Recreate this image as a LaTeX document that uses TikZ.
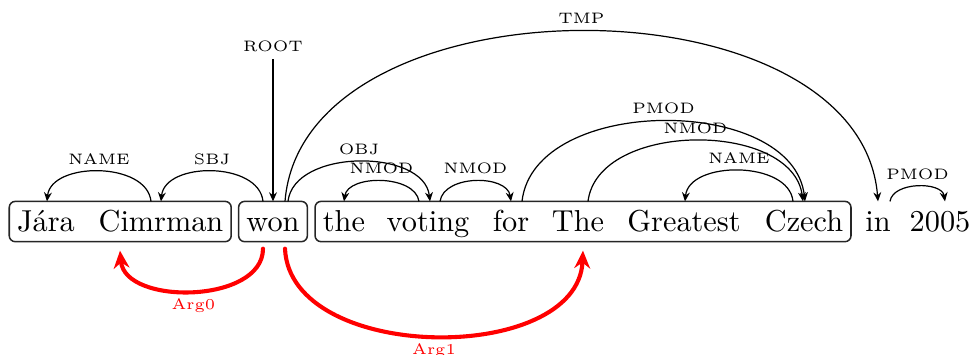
\documentclass[tikz,border=0pt]{standalone}
\usetikzlibrary{arrows.meta,calc,fit}
\begin{document}
\begin{tikzpicture}[x=0.33pt,y=-0.33pt,
  word/.style={anchor=base,inner sep=0pt,text height=9.9pt,text depth=3pt,font=\normalsize},
  wbox/.style={draw=black!85,rounded corners=2pt,inner xsep=2.4pt,inner ysep=0pt,line width=0.5pt},
  dep/.style={-{Stealth[length=3pt,width=2.6pt]},line width=0.4pt},
  lab/.style={font=\tiny,anchor=base,inner sep=0pt,yshift=2.4pt},
  srl/.style={red,line width=1.35pt,line cap=round,-{Stealth[length=5.8pt,width=5.2pt]}},
  srllab/.style={font=\tiny,text=red,anchor=base,inner sep=0pt,yshift=-6pt}]
\path[use as bounding box] (0,0) rectangle (976,355);

% sentence tokens
\node[word] (w1)  at (46,232)  {Jára};
\node[word] (w2)  at (161,232) {Cimrman};
\node[word] (w3)  at (273,232) {won};
\node[word] (w4)  at (344,232) {the};
\node[word] (w5)  at (428,232) {voting};
\node[word] (w6)  at (511,232) {for};
\node[word] (w7)  at (578,232) {The};
\node[word] (w8)  at (684,232) {Greatest};
\node[word] (w9)  at (804,232) {Czech};
\node[word] (w10) at (878,232) {in};
\node[word] (w11) at (940,232) {2005};

% phrase groups
\node[wbox,fit=(w1)(w2)] (g1) {};
\node[wbox,fit=(w3)] (g2) {};
\node[wbox,fit=(w4)(w9)] (g3) {};

% root
\node[font=\tiny,inner sep=0pt] (root) at (273,46) {ROOT};
\draw[dep] ([yshift=-2.4pt]root.south) -- (w3.north);

% dependency arcs
\draw[dep] ($(w2.north)+(-10,0)$) .. controls +(-4,-40) and +(4,-40) .. ($(w1.north)+(1,0)$)
  node[lab,midway] {NAME};
\draw[dep] ($(w3.north)+(-10,0)$) .. controls +(-4,-40) and +(4,-40) .. (w2.north)
  node[lab,midway] {SBJ};
\draw[dep] ($(w3.north)+(12,0)$) .. controls +(18,-227) and +(-18,-227) .. (w10.north)
  node[lab,midway] {TMP};
\draw[dep] ($(w3.north)+(15,0)$) .. controls +(6,-53) and +(-6,-53) .. ($(w5.north)+(2,0)$)
  node[lab,midway] {OBJ};
\draw[dep] ($(w5.north)+(-9,0)$) .. controls +(-4,-27) and +(4,-27) .. (w4.north)
  node[lab,midway] {NMOD};
\draw[dep] ($(w5.north)+(12,0)$) .. controls +(4,-27) and +(-4,-27) .. (w6.north)
  node[lab,midway] {NMOD};
\draw[dep] ($(w6.north)+(11,0)$) .. controls +(12,-107) and +(-12,-107) .. ($(w9.north)+(1,0)$)
  node[lab,midway] {PMOD};
\draw[dep] ($(w7.north)+(10,0)$) .. controls +(10,-81) and +(-10,-81) .. ($(w9.north)+(-1,0)$)
  node[lab,midway] {NMOD};
\draw[dep] ($(w9.north)+(-11,0)$) .. controls +(-4,-41) and +(4,-41) .. ($(w8.north)+(1,0)$)
  node[lab,midway] {NAME};
\draw[dep] ($(w10.north)+(12,0)$) .. controls +(3,-20) and +(-3,-20) .. ($(w11.north)+(5,0)$)
  node[lab,midway] {PMOD};

% semantic role arcs
\draw[srl] ($(w3.south)+(-10,7)$) .. controls +(0,55) and +(5,55) .. ($(w2.south)+(-41,9)$)
  node[srllab,midway] {Arg0};
\draw[srl] ($(w3.south)+(12,7)$) .. controls +(5,115) and +(-5,115) .. ($(w7.south)+(5,9)$)
  node[srllab,midway] {Arg1};
\end{tikzpicture}
\end{document}
